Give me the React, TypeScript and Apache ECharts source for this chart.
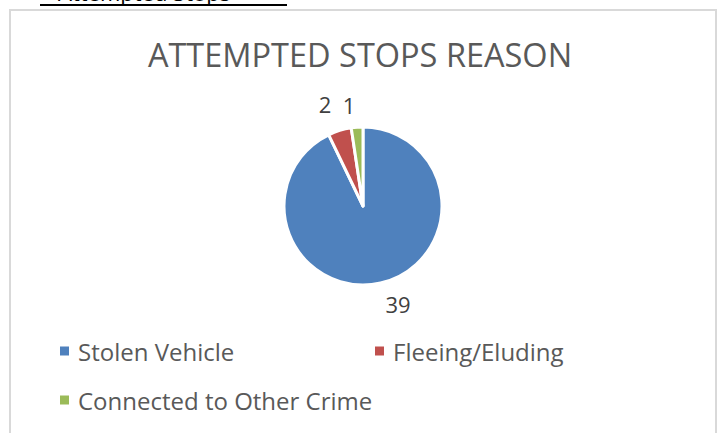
import React, { useEffect, useRef } from "react";
import * as echarts from "echarts";

const categories = ["Stolen Vehicle", "Fleeing/Eluding", "Connected to Other Crime"];
const values = [39, 2, 1];
const colors = ["#4F81BD", "#C0504D", "#9BBB59"];
const labelLengths = [22, 28, 22];
const titleText = "ATTEMPTED STOPS REASON";
const headingText = "Attempted Stops";

const FONT = "'Open Sans', 'Liberation Sans', sans-serif";

export default function App() {
  const ref = useRef<HTMLDivElement>(null);
  useEffect(() => {
    if (!ref.current) return;
    const chart = echarts.init(ref.current, null, { renderer: "svg" });
    const legendPos = [
      { left: 60, top: 339 },
      { left: 375, top: 339 },
      { left: 60, top: 388 },
    ];
    chart.setOption({
      animation: false,
      backgroundColor: "#ffffff",
      title: {
        text: titleText,
        left: "center",
        top: 33,
        textStyle: { fontFamily: FONT, fontSize: 32.5, fontWeight: "normal", color: "#595959" },
      },
      legend: categories.map((c, i) => ({
        data: [c],
        left: legendPos[i].left,
        top: legendPos[i].top,
        icon: "rect",
        itemWidth: 9,
        itemHeight: 9,
        padding: 0,
        selectedMode: false,
        itemStyle: { borderWidth: 0 },
        textStyle: { fontFamily: FONT, fontSize: 24, color: "#595959", padding: [0, 0, 0, 4] },
      })),
      graphic: [
        {
          type: "rect",
          shape: { x: 10, y: 10, width: 706, height: 440 },
          style: { fill: "none", stroke: "#d9d9d9", lineWidth: 2 },
          silent: true,
        },
        {
          type: "text",
          x: 58,
          y: -8,
          style: {
            text: headingText,
            fontFamily: FONT,
            fontSize: 22,
            fill: "#000000",
            verticalAlign: "middle",
          },
          silent: true,
        },
        {
          type: "line",
          shape: { x1: 40, y1: 5, x2: 287, y2: 5 },
          style: { stroke: "#000000", lineWidth: 2 },
          silent: true,
        },
      ],
      series: [
        {
          type: "pie",
          center: [363, 206],
          radius: 79,
          startAngle: 90,
          clockwise: true,
          avoidLabelOverlap: false,
          data: categories.map((c, i) => ({
            name: c,
            value: values[i],
            itemStyle: { color: colors[i] },
            labelLine: { show: false, length: labelLengths[i], length2: 0 },
          })),
          itemStyle: { borderColor: "#ffffff", borderWidth: 3 },
          label: {
            show: true,
            position: "outside",
            formatter: "{c}",
            fontFamily: FONT,
            fontSize: 22,
            color: "#404040",
            distanceToLabelLine: 0,
          },
          labelLine: { show: false, length: 22, length2: 0 },
          emphasis: { disabled: true },
        },
      ],
    });
    return () => chart.dispose();
  }, []);
  return (
    <div
      ref={ref}
      style={{ position: "fixed", left: 0, top: 0, width: 720, height: 433 }}
    />
  );
}
